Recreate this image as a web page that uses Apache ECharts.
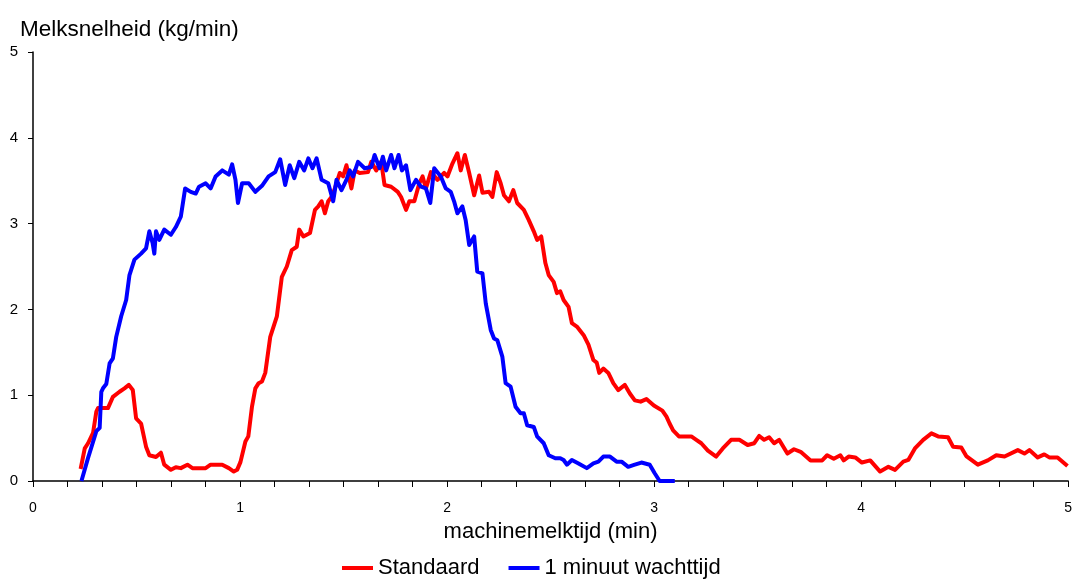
<!DOCTYPE html>
<html>
<head>
<meta charset="utf-8">
<script src="https://cdn.jsdelivr.net/npm/echarts@6/dist/echarts.min.js"></script>
<style>
  html, body { margin: 0; padding: 0; background: #fff; }
  #chart { width: 1075px; height: 579px; }
</style>
</head>
<body>
<div id="chart"></div>
<script>
// Milk flow curves: time in minutes, flow rate in kg/min
const seriesNames = ['Standaard', '1 minuut wachttijd'];

const stdTime = [0.23,0.25,0.266,0.29,0.306,0.314,0.362,0.386,0.418,0.442,0.463,0.482,0.498,0.522,0.546,0.562,0.594,0.618,0.634,0.666,0.69,0.714,0.746,0.77,0.834,0.858,0.914,0.946,0.97,0.986,1.002,1.026,1.04,1.058,1.074,1.09,1.106,1.122,1.146,1.178,1.202,1.226,1.25,1.274,1.286,1.306,1.338,1.362,1.378,1.394,1.41,1.426,1.442,1.458,1.482,1.498,1.514,1.538,1.554,1.578,1.618,1.634,1.658,1.682,1.698,1.73,1.762,1.778,1.802,1.818,1.842,1.866,1.882,1.898,1.922,1.954,1.986,2.002,2.026,2.05,2.066,2.086,2.107,2.131,2.155,2.171,2.203,2.219,2.24,2.259,2.275,2.299,2.32,2.339,2.371,2.395,2.419,2.435,2.455,2.475,2.491,2.515,2.531,2.547,2.563,2.587,2.603,2.627,2.66,2.683,2.707,2.723,2.735,2.755,2.779,2.803,2.827,2.859,2.883,2.907,2.935,2.963,2.999,3.04,3.06,3.075,3.092,3.12,3.18,3.204,3.228,3.26,3.30,3.332,3.372,3.412,3.452,3.484,3.508,3.532,3.556,3.58,3.604,3.644,3.676,3.708,3.756,3.812,3.836,3.868,3.9,3.916,3.94,3.972,4.004,4.044,4.092,4.132,4.164,4.204,4.228,4.26,4.30,4.34,4.372,4.42,4.444,4.484,4.508,4.564,4.612,4.653,4.693,4.757,4.789,4.813,4.853,4.885,4.909,4.949,4.997];
const stdRate = [0.14,0.38,0.44,0.56,0.81,0.85,0.85,0.98,1.04,1.08,1.12,1.06,0.73,0.67,0.40,0.30,0.28,0.33,0.19,0.13,0.16,0.15,0.19,0.15,0.15,0.19,0.19,0.15,0.11,0.13,0.22,0.46,0.52,0.87,1.08,1.14,1.16,1.26,1.68,1.92,2.38,2.50,2.69,2.73,2.93,2.85,2.89,3.16,3.20,3.26,3.12,3.26,3.31,3.41,3.59,3.55,3.68,3.41,3.62,3.59,3.60,3.72,3.62,3.72,3.45,3.43,3.37,3.31,3.16,3.26,3.26,3.47,3.55,3.41,3.60,3.51,3.59,3.55,3.70,3.82,3.62,3.80,3.59,3.33,3.56,3.36,3.37,3.31,3.60,3.47,3.33,3.26,3.39,3.24,3.16,3.04,2.91,2.81,2.85,2.54,2.40,2.32,2.19,2.21,2.11,2.03,1.84,1.80,1.70,1.59,1.41,1.38,1.26,1.31,1.26,1.14,1.06,1.12,1.02,0.94,0.925,0.955,0.88,0.82,0.75,0.67,0.59,0.52,0.52,0.48,0.44,0.355,0.285,0.38,0.48,0.48,0.42,0.44,0.525,0.48,0.51,0.44,0.48,0.32,0.37,0.34,0.24,0.24,0.30,0.26,0.30,0.24,0.285,0.275,0.215,0.24,0.11,0.165,0.13,0.225,0.245,0.38,0.48,0.555,0.52,0.51,0.40,0.39,0.29,0.19,0.24,0.30,0.285,0.36,0.32,0.36,0.275,0.31,0.275,0.275,0.175];

const waitTime = [0.234,0.266,0.306,0.322,0.33,0.338,0.354,0.37,0.386,0.402,0.426,0.45,0.466,0.49,0.522,0.546,0.562,0.578,0.586,0.594,0.61,0.634,0.666,0.69,0.714,0.735,0.762,0.786,0.802,0.834,0.858,0.882,0.914,0.946,0.962,0.978,0.99,1.01,1.042,1.074,1.106,1.138,1.17,1.194,1.218,1.24,1.262,1.286,1.31,1.33,1.35,1.37,1.394,1.426,1.45,1.466,1.49,1.514,1.53,1.546,1.57,1.602,1.634,1.65,1.674,1.69,1.706,1.73,1.746,1.766,1.782,1.802,1.823,1.85,1.874,1.898,1.919,1.938,1.97,1.994,2.018,2.034,2.05,2.074,2.09,2.107,2.131,2.146,2.171,2.187,2.211,2.227,2.243,2.267,2.283,2.307,2.331,2.355,2.371,2.387,2.419,2.435,2.467,2.491,2.523,2.547,2.563,2.579,2.603,2.635,2.675,2.707,2.731,2.755,2.787,2.819,2.843,2.875,2.907,2.939,2.979,3.003,3.027,3.1];
const waitRate = [0,0.27,0.58,0.62,1.04,1.08,1.13,1.37,1.43,1.68,1.92,2.11,2.40,2.58,2.65,2.71,2.91,2.77,2.65,2.91,2.81,2.93,2.87,2.96,3.08,3.41,3.37,3.35,3.43,3.47,3.41,3.55,3.62,3.57,3.69,3.51,3.24,3.47,3.47,3.37,3.44,3.55,3.60,3.75,3.45,3.68,3.53,3.72,3.62,3.76,3.645,3.76,3.51,3.47,3.26,3.51,3.39,3.51,3.62,3.55,3.72,3.645,3.66,3.80,3.645,3.78,3.62,3.80,3.645,3.80,3.62,3.68,3.39,3.51,3.43,3.41,3.24,3.645,3.55,3.41,3.37,3.26,3.12,3.20,3.04,2.75,2.85,2.44,2.42,2.07,1.76,1.66,1.64,1.45,1.14,1.10,0.865,0.79,0.79,0.65,0.63,0.52,0.44,0.30,0.265,0.265,0.245,0.19,0.245,0.205,0.15,0.205,0.225,0.285,0.285,0.225,0.225,0.165,0.19,0.215,0.19,0.09,0,0];

const xTicks = [0, 1, 2, 3, 4, 5];
const yTicks = [0, 1, 2, 3, 4, 5];

const FONT = "'Liberation Sans', Arial, sans-serif";
const pairs = (xs, ys) => xs.map((x, i) => [x, ys[i]]);

const chart = echarts.init(document.getElementById('chart'), null, { renderer: 'canvas' });
chart.setOption({
  animation: false,
  backgroundColor: '#ffffff',
  textStyle: { fontFamily: FONT, color: '#000' },
  title: {
    text: 'Melksnelheid (kg/min)',
    left: 15, top: 13,
    textStyle: { fontFamily: FONT, fontSize: 22.5, fontWeight: 'normal', color: '#000' }
  },
  legend: {
    data: seriesNames,
    left: 337, top: 552,
    icon: 'rect',
    itemWidth: 31, itemHeight: 4,
    itemGap: 29,
    textStyle: { fontFamily: FONT, fontSize: 22, color: '#000', padding: [7, 0, 0, 0] }
  },
  grid: { left: 33, right: 1, top: 52, bottom: 98, containLabel: false },
  xAxis: {
    type: 'value',
    min: xTicks[0], max: xTicks[xTicks.length - 1], interval: 1,
    name: 'machinemelktijd (min)',
    nameLocation: 'middle', nameGap: 40,
    nameTextStyle: { fontFamily: FONT, fontSize: 22, color: '#000' },
    axisLine: { show: true, lineStyle: { color: '#000', width: 1.5 } },
    axisTick: { show: true, length: 6, lineStyle: { color: '#000', width: 1 } },
    minorTick: { show: true, splitNumber: 6, length: 6, lineStyle: { color: '#000', width: 1 } },
    axisLabel: { fontFamily: FONT, fontSize: 14, color: '#000', margin: 20 },
    splitLine: { show: false }
  },
  yAxis: {
    type: 'value',
    min: yTicks[0], max: yTicks[yTicks.length - 1], interval: 1,
    axisLine: { show: true, lineStyle: { color: '#000', width: 1.5 } },
    axisTick: { show: true, length: 5, lineStyle: { color: '#000', width: 1 } },
    axisLabel: { fontFamily: FONT, fontSize: 15, color: '#000', margin: 15 },
    splitLine: { show: false }
  },
  series: [
    {
      name: seriesNames[0], type: 'line', data: pairs(stdTime, stdRate),
      showSymbol: false, symbol: 'none',
      itemStyle: { color: '#ff0000' },
      lineStyle: { color: '#ff0000', width: 4, join: 'round' }
    },
    {
      name: seriesNames[1], type: 'line', data: pairs(waitTime, waitRate),
      showSymbol: false, symbol: 'none',
      itemStyle: { color: '#0000ff' },
      lineStyle: { color: '#0000ff', width: 4, join: 'round' }
    }
  ]
});
</script>
</body>
</html>
